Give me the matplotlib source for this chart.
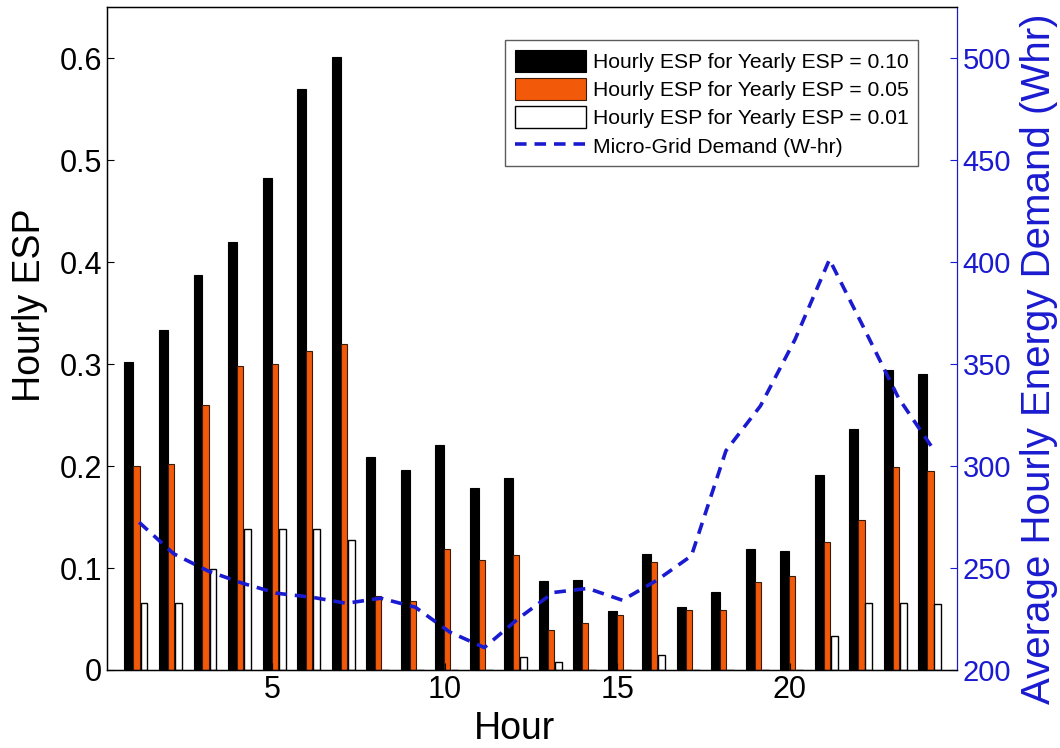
import numpy as np
import matplotlib
matplotlib.use("Agg")
import matplotlib.pyplot as plt

plt.rcParams["font.family"] = ["Liberation Sans", "DejaVu Sans"]

# ---------------------------------------------------------------------------
# Data.
# ---------------------------------------------------------------------------
hours = np.arange(1, 25)

esp_010 = [0.302, 0.333, 0.387, 0.420, 0.483, 0.570, 0.601, 0.209, 0.196, 0.221,
           0.178, 0.188, 0.087, 0.088, 0.058, 0.114, 0.062, 0.076, 0.119, 0.117,
           0.191, 0.236, 0.294, 0.290]
esp_005 = [0.200, 0.202, 0.260, 0.298, 0.300, 0.313, 0.320, 0.073, 0.068, 0.119,
           0.108, 0.113, 0.039, 0.046, 0.054, 0.106, 0.059, 0.059, 0.086, 0.092,
           0.126, 0.147, 0.199, 0.195]
esp_001 = [0.066, 0.066, 0.099, 0.138, 0.138, 0.138, 0.127, 0.0, 0.0, 0.0,
           0.0, 0.013, 0.008, 0.0, 0.0, 0.015, 0.0, 0.0, 0.0, 0.0,
           0.033, 0.066, 0.066, 0.065]
demand = [272.4, 257.0, 248.5, 242.5, 237.6, 235.7, 232.7, 235.2, 230.8, 218.6,
          211.0, 225.4, 238.0, 240.0, 234.2, 244.0, 256.0, 307.5, 329.5, 362.0,
          401.3, 367.6, 333.4, 308.5]

labels = ["Hourly ESP for Yearly ESP = 0.10",
          "Hourly ESP for Yearly ESP = 0.05",
          "Hourly ESP for Yearly ESP = 0.01",
          "Micro-Grid Demand (W-hr)"]

BLUE = "#1a1ad0"
ORANGE = "#f25a0a"

# ---------------------------------------------------------------------------
# Figure
# ---------------------------------------------------------------------------
fig = plt.figure(figsize=(10.6, 7.48), dpi=100)
ax = fig.add_axes([0.101, 0.1043, 0.802, 0.886])
ax2 = ax.twinx()

b1 = ax.bar(hours - 0.145, esp_010, width=0.26, color="black",
            edgecolor="black", linewidth=0.8)
b2 = ax.bar(hours + 0.075, esp_005, width=0.18, color=ORANGE,
            edgecolor="#3a1a08", linewidth=0.8)
b3 = ax.bar(hours + 0.29, esp_001, width=0.2, color="white",
            edgecolor="black", linewidth=1.0)

ln, = ax2.plot(hours + 0.15, demand, color=BLUE, lw=2.6, ls=(0, (3.2, 2.2)))

ax.set_xlim(0.22, 24.85)
ax.set_ylim(0, 0.65)
ax.set_yticks([0, 0.1, 0.2, 0.3, 0.4, 0.5, 0.6])
ax.set_yticklabels(["0", "0.1", "0.2", "0.3", "0.4", "0.5", "0.6"])
ax.set_xticks([5, 10, 15, 20])
ax.tick_params(axis="both", direction="in", labelsize=22, length=5, width=0.8)
ax.set_xlabel("Hour", fontsize=27)
ax.set_ylabel("Hourly ESP", fontsize=27)
ax.xaxis.set_label_coords(0.479, -0.062)
ax.yaxis.set_label_coords(-0.069, 0.55)

ax2.set_ylim(200, 525)
ax2.set_yticks([200, 250, 300, 350, 400, 450, 500])
ax2.tick_params(axis="y", direction="in", labelsize=21, length=5, width=0.8,
                colors=BLUE, pad=4)
ax2.set_ylabel("Average Hourly Energy Demand (Whr)", fontsize=29, color=BLUE)
ax2.yaxis.set_label_coords(1.074, 0.47)
ax2.spines["right"].set_color(BLUE)
for s in ["left", "top", "bottom"]:
    ax.spines[s].set_linewidth(1.0)

leg = ax2.legend([b1, b2, b3, ln], labels, loc="upper right",
                 bbox_to_anchor=(0.954, 0.950), fontsize=15.2, frameon=True,
                 fancybox=False, edgecolor="#333333", handlelength=3.4,
                 handleheight=1.2, handletextpad=0.3, labelspacing=0.3,
                 borderpad=0.45, borderaxespad=0.0)
leg.get_frame().set_linewidth(1.0)

fig.savefig("out.png", dpi=100)
